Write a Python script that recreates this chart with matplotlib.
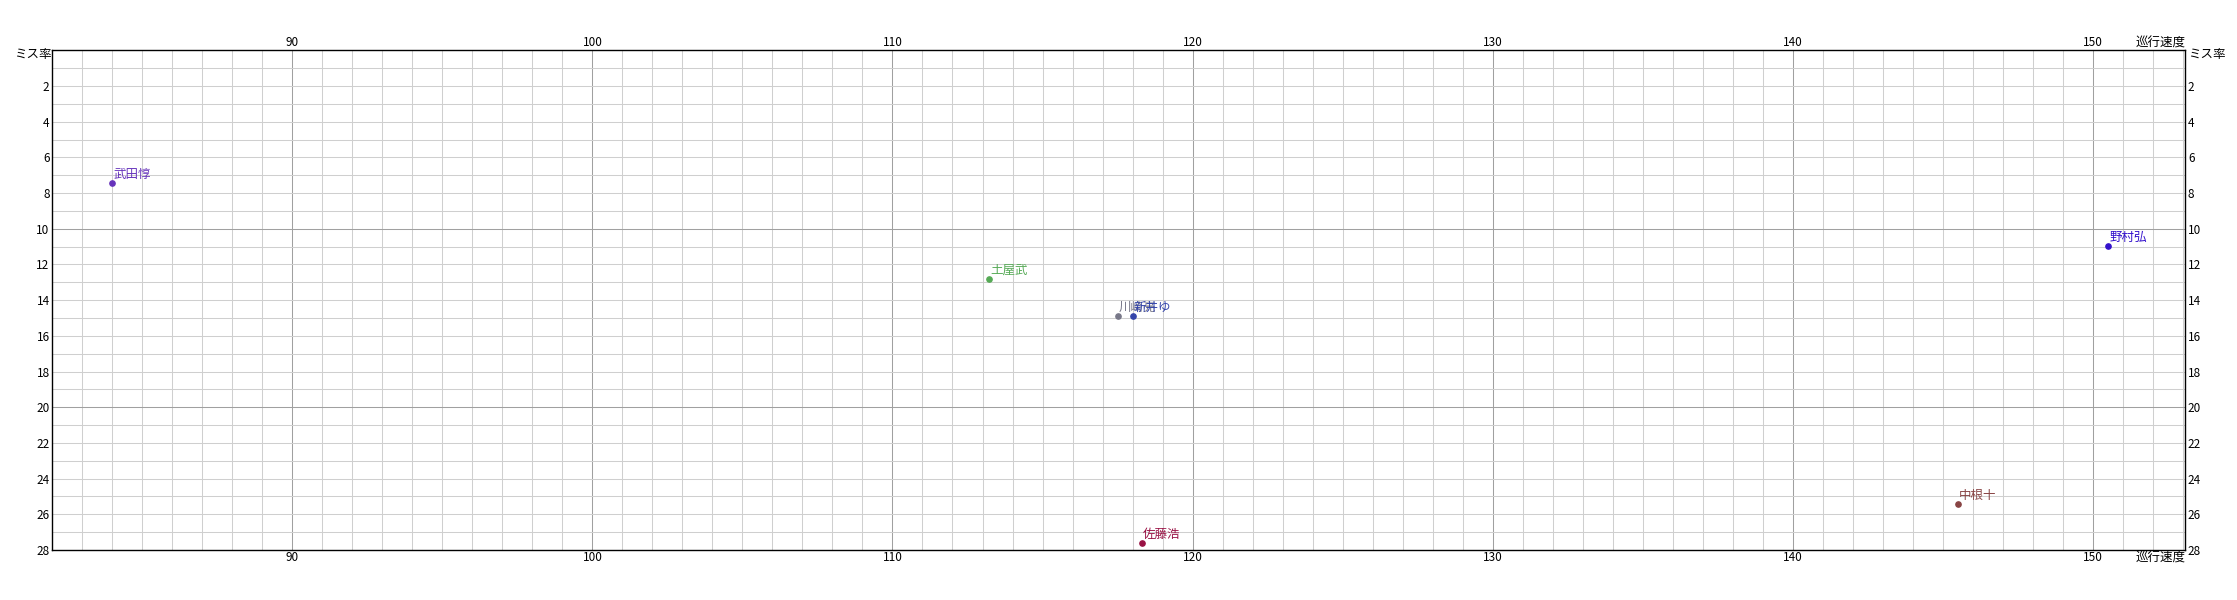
import matplotlib
matplotlib.use('Agg')
import matplotlib.pyplot as plt
import numpy as np

plt.rcParams['font.family'] = ['Noto Sans CJK JP', 'DejaVu Sans']

# 選手ごとの巡行速度とミス率
names = ['武田惇', '土屋武', '川崎亮', '新井ゆ', '佐藤浩', '中根十', '野村弘']
speed = [84.0, 113.2, 117.5, 118.0, 118.3, 145.5, 150.5]
miss = [7.45, 12.8, 14.9, 14.9, 27.6, 25.4, 10.95]
colors = ['#6633bb', '#55aa55', '#777788', '#3344aa', '#991144', '#884444', '#3311cc']

x_ticks = [90, 100, 110, 120, 130, 140, 150]
y_ticks = list(range(2, 29, 2))

fig = plt.figure(figsize=(22.37, 6), dpi=100)
ax = fig.add_axes([0.0234, 0.0833, 0.9534, 0.8329])

ax.set_xlim(82, 153.08)
ax.set_ylim(28, 0)

# グリッド (1刻み + 10刻み)
for v in range(83, 154):
    c = '#a0a0a0' if v % 10 == 0 else '#cfcfcf'
    ax.axvline(v, color=c, lw=0.75, zorder=0)
for v in range(1, 28):
    c = '#a0a0a0' if v % 10 == 0 else '#cfcfcf'
    ax.axhline(v, color=c, lw=0.75, zorder=0)

for s in ax.spines.values():
    s.set_color('black')
    s.set_linewidth(1.0)

ax.set_xticks(x_ticks)
ax.set_yticks(y_ticks)
ax.tick_params(axis='x', which='both', length=0, labelsize=8.5, pad=1,
               top=True, labeltop=True, bottom=True, labelbottom=True)
ax.tick_params(axis='y', which='both', length=0, labelsize=8.5, pad=2,
               left=True, labelleft=True, right=True, labelright=True)

for x, y, n, c in zip(speed, miss, names, colors):
    ax.plot(x, y, 'o', color=c, ms=3.8, zorder=3)
    ax.annotate(n, (x, y), xytext=(1, 1.5), textcoords='offset points',
                color=c, fontsize=9, ha='left', va='bottom', zorder=4)

# 軸タイトル
ax.text(1.0, 1.002, '巡行速度', transform=ax.transAxes, ha='right', va='bottom', fontsize=9)
ax.text(1.0, -0.004, '巡行速度', transform=ax.transAxes, ha='right', va='top', fontsize=9)
ax.text(-0.0005, 0.992, 'ミス率', transform=ax.transAxes, ha='right', va='center', fontsize=9)
ax.text(1.0015, 0.992, 'ミス率', transform=ax.transAxes, ha='left', va='center', fontsize=9)

fig.savefig('out.png', dpi=100)
